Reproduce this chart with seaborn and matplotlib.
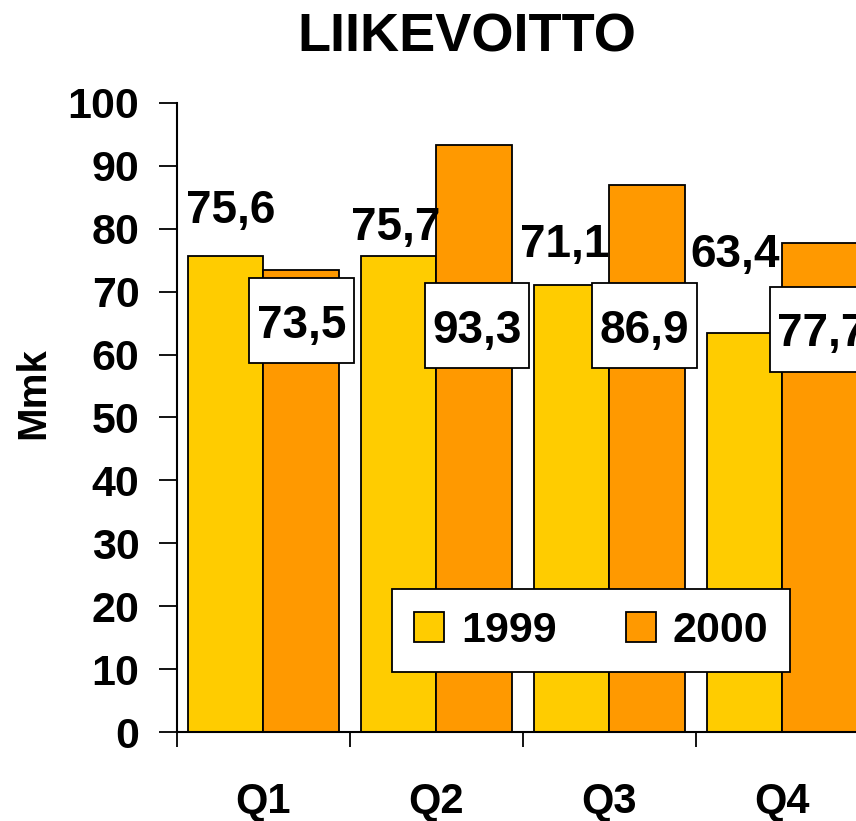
import matplotlib
matplotlib.use("Agg")
import matplotlib.pyplot as plt
from matplotlib.patches import Rectangle
import seaborn as sns
import pandas as pd

quarters = ["Q1", "Q2", "Q3", "Q4"]
years = ["1999", "2000"]
values_1999 = [75.6, 75.7, 71.1, 63.4]
values_2000 = [73.5, 93.3, 86.9, 77.7]
y_ticks = [0, 10, 20, 30, 40, 50, 60, 70, 80, 90, 100]
title = "LIIKEVOITTO"
y_label = "Mmk"
colors = ["#FFCC00", "#FF9900"]

df = pd.DataFrame({
    "quarter": quarters * 2,
    "year": [years[0]] * 4 + [years[1]] * 4,
    "value": values_1999 + values_2000,
})

sns.set_theme(style="white")
plt.rcParams["font.family"] = ["Liberation Sans", "DejaVu Sans"]
plt.rcParams["font.weight"] = "bold"
for k in ["text.color", "axes.labelcolor", "xtick.color", "ytick.color"]:
    plt.rcParams[k] = "black"

fig = plt.figure(figsize=(8.56, 8.21), dpi=100)
ax = fig.add_axes([177 / 856, 1 - 732 / 821, 1 - 177 / 856, (732 - 103) / 821])

sns.barplot(data=df, x="quarter", y="value", hue="year", order=quarters,
            hue_order=years, palette=colors, saturation=1, width=0.87,
            edgecolor="black", linewidth=1.3, ax=ax)

ax.set_xlim(-0.5, 3.425)
ax.set_ylim(0, 100)
ax.set_yticks(y_ticks)
ax.set_yticklabels([str(t) for t in y_ticks], fontsize=31, fontweight="bold")
ax.tick_params(axis="y", length=13, width=1.3, color="black", pad=14, direction="out", left=True)

# category boundaries as major ticks, labels on minor ticks at centers
ax.set_xticks([-0.5, 0.5, 1.5, 2.5])
ax.set_xticklabels([])
ax.tick_params(axis="x", which="major", length=11, width=1.3, color="black", direction="out", bottom=True)
ax.set_xticks(range(len(quarters)), minor=True)
ax.set_xticklabels(quarters, minor=True, fontsize=30, fontweight="bold")
ax.tick_params(axis="x", which="minor", length=0, pad=36)

for s in ["top", "right"]:
    ax.spines[s].set_visible(False)
for s in ["left", "bottom"]:
    ax.spines[s].set_color("black")
    ax.spines[s].set_linewidth(1.5)

ax.set_xlabel("")
ax.set_ylabel(y_label, fontsize=29, fontweight="bold")
ax.yaxis.set_label_coords(-0.183, 0.538)

fig.text(467 / 856, 1 - 37 / 821, title, ha="center", va="center",
         fontsize=39, fontweight="bold")

# data labels (layout only)
lbl_dx_1999 = [-0.19, -0.234, -0.257, -0.275]
lbl_base_1999 = [80.9, 78.2, 75.5, 73.9]
box_dx_2000 = [0.22, 0.234, 0.202, 0.228]
box_cy_2000 = [65.4, 64.6, 64.6, 64.0]
box_w, box_h = 0.605, 13.5
fmt = lambda v: f"{v:.1f}".replace(".", ",")
for i, v in enumerate(values_1999):
    ax.text(i + lbl_dx_1999[i], lbl_base_1999[i], fmt(v), ha="center", va="baseline",
            fontsize=33, fontweight="bold", clip_on=False, zorder=5)
for i, v in enumerate(values_2000):
    cx, cy = i + box_dx_2000[i], box_cy_2000[i]
    ax.add_patch(Rectangle((cx - box_w / 2, cy - box_h / 2), box_w, box_h,
                           facecolor="white", edgecolor="black", lw=1.3, zorder=4))
    ax.text(cx, cy - 2.7, fmt(v), ha="center", va="baseline",
            fontsize=33, fontweight="bold", zorder=5)

leg = ax.legend(loc="center", bbox_to_anchor=(0.61, 0.161), ncol=2, frameon=True,
                prop={"weight": "bold", "size": 31}, handlelength=0.7,
                handleheight=0.7, columnspacing=1.6, handletextpad=0.4,
                borderpad=0.5, fancybox=False)
leg.get_frame().set_edgecolor("black")
leg.get_frame().set_linewidth(1.3)
leg.get_frame().set_facecolor("white")
leg.get_frame().set_alpha(1)
leg.set_zorder(6)

fig.savefig("out.png", dpi=100)
